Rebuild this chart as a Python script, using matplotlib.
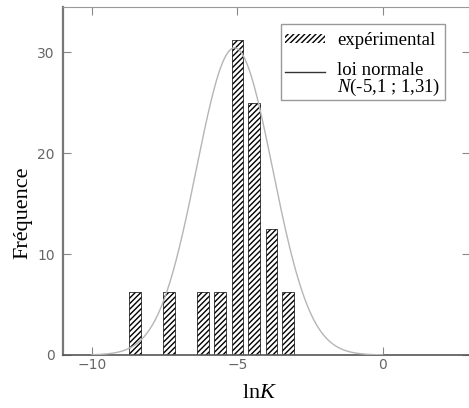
import numpy as np
import matplotlib
matplotlib.use("Agg")
import matplotlib.pyplot as plt
from matplotlib.patches import Patch
from matplotlib.lines import Line2D

plt.rcParams['mathtext.fontset'] = 'custom'
plt.rcParams['mathtext.rm'] = 'Liberation Serif'
plt.rcParams['mathtext.it'] = 'Liberation Serif:italic'
plt.rcParams['hatch.linewidth'] = 1.0

# Data (histogram in %, 16 samples)
bin_centers = [-8.53, -7.36, -6.18, -5.6, -5.0, -4.42, -3.83, -3.25]
freq = [6.25, 6.25, 6.25, 6.25, 31.25, 25.0, 12.5, 6.25]
mu, sigma = -5.1, 1.31
xticks = [-10, -5, 0]
yticks = [0, 10, 20, 30]

fig = plt.figure(figsize=(4.69, 4.08), dpi=100)
ax = fig.add_axes([63 / 469, 53 / 408, 407 / 469, 348 / 408])

ax.bar(bin_centers, freq, width=0.4, color='white', edgecolor='black',
       hatch='//////', linewidth=0.5, zorder=2)

xs = np.linspace(-10, 0, 400)
pdf = 100 * np.exp(-0.5 * ((xs - mu) / sigma) ** 2) / (sigma * np.sqrt(2 * np.pi))
ax.plot(xs, pdf, color='#b5b5b5', lw=1.0, zorder=3)

ax.set_xlim(-11, 3)
ax.set_ylim(0, 34.5)
ax.set_xticks(xticks)
ax.set_yticks(yticks)
ax.tick_params(direction='in', length=6, width=0.8, color='#888888',
               labelcolor='#666666', labelsize=10, top=True, right=True)
ax.tick_params(axis='y', pad=6)
ax.tick_params(axis='x', pad=2)

ax.spines['right'].set_visible(False)
ax.spines['left'].set_color('#777777')
ax.spines['left'].set_linewidth(1.6)
ax.spines['top'].set_color('#999999')
ax.spines['bottom'].set_color('#555555')
ax.spines['bottom'].set_linewidth(1.2)

ax.set_ylabel('Fréquence', family='Liberation Serif', fontsize=16)
ax.set_xlabel(r'ln$\mathit{K}$', family='Liberation Serif', fontsize=16)
ax.yaxis.set_label_coords(-0.075, 0.408)
ax.xaxis.set_label_coords(0.484, -0.083)

handles = [Patch(facecolor='white', edgecolor='black', hatch='//////', linewidth=0),
           Line2D([], [], color='#333333', lw=1.0)]
labels = ['expérimental', 'loi normale\n' + r'$\mathit{N}$(-5,1 ; 1,31)']
leg = ax.legend(handles, labels, loc='upper right',
                bbox_to_anchor=(445 / 469, 1 - 24 / 408), bbox_transform=fig.transFigure,
                borderaxespad=0, fancybox=False, framealpha=1, edgecolor='#999999',
                prop={'family': 'Liberation Serif', 'size': 13.5},
                handlelength=2.1, handleheight=0.35, handletextpad=0.65,
                labelspacing=0.7, borderpad=0.25)
leg.get_frame().set_linewidth(1.0)
# nudge the legend contents down a little
for t in leg.get_texts():
    t.set_linespacing(0.9)
    t.set_y(t.get_position()[1] - 3)
for ln in leg.get_lines():
    ln.set_ydata(np.asarray(ln.get_ydata()) + 4.5)
for p in leg.get_patches():
    p.set_y(p.get_y() - 2.5)

fig.savefig('out.png', dpi=100)
